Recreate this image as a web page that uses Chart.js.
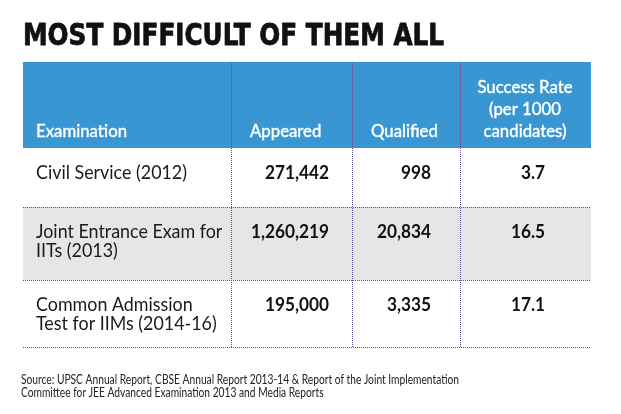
<!DOCTYPE html>
<html>
<head>
<meta charset="utf-8">
<title>Most difficult of them all</title>
<script src="https://cdn.jsdelivr.net/npm/chart.js"></script>
<style>
  html, body { margin: 0; padding: 0; background: #fff; }
  #wrap { width: 621px; height: 414px; }
</style>
</head>
<body>
<div id="wrap"><canvas id="chartTable" width="621" height="414"></canvas></div>
<script>
// Table content
const titleText = 'MOST DIFFICULT OF THEM ALL';
const headers = [['Examination'], ['Appeared'], ['Qualified'], ['Success Rate', '(per 1000', 'candidates)']];
const exams = [['Civil Service (2012)'], ['Joint Entrance Exam for', 'IITs (2013)'], ['Common Admission', 'Test for IIMs (2014-16)']];
const appeared = [271442, 1260219, 195000];
const qualified = [998, 20834, 3335];
const successRate = [3.7, 16.5, 17.1];
const sourceLines = [
    'Source: UPSC Annual Report, CBSE Annual Report 2013-14 & Report of the Joint Implementation',
    'Committee for JEE Advanced Examination 2013 and Media Reports'
];

// Layout (scale units: table is 568 wide, 285 tall)
const colEdges = [0, 208, 329, 437, 568];
const rowEdges = [0, 86, 145, 218, 285];

const BLUE = '#3897d3';
const GREY = '#e6e6e7';
const DOTS = '#544f98';

const styles = {
    title: { font: 'bold 31px "Liberation Sans Narrow", "DejaVu Sans Condensed", sans-serif', color: '#111', ref: [titleText, 421], stroke: 0.8 },
    head:  { font: '17px Lato, "Open Sans", sans-serif', color: '#fff', ref: ['Examination', 91], stroke: 0.4 },
    body:  { font: '20px Lato, "Open Sans", sans-serif', color: '#1a1a1a', ref: ['Civil Service (2012)', 151] },
    num:   { font: 'bold 19px Lato, "Open Sans", sans-serif', color: '#111', ref: ['271,442', 64] },
    src:   { font: '13.5px Lato, "Open Sans", sans-serif', color: '#222', ref: [sourceLines[0], 438] }
};

function squeeze(ctx, style) {
    if (style.sq === undefined) {
        ctx.font = style.font;
        style.sq = style.ref[1] / ctx.measureText(style.ref[0]).width;
    }
    return style.sq;
}

function drawText(ctx, str, x, y, style, align) {
    const sq = squeeze(ctx, style);
    ctx.save();
    ctx.font = style.font;
    ctx.fillStyle = style.color;
    ctx.textAlign = align || 'left';
    ctx.textBaseline = 'alphabetic';
    ctx.translate(x, y);
    ctx.scale(sq, 1);
    ctx.fillText(str, 0, 0);
    if (style.stroke) {
        ctx.strokeStyle = style.color;
        ctx.lineWidth = style.stroke;
        ctx.strokeText(str, 0, 0);
    }
    ctx.restore();
}

function dotted(ctx, x1, y1, x2, y2) {
    ctx.save();
    ctx.strokeStyle = DOTS;
    ctx.lineWidth = 1;
    ctx.setLineDash([1, 1]);
    ctx.beginPath();
    ctx.moveTo(x1, y1);
    ctx.lineTo(x2, y2);
    ctx.stroke();
    ctx.restore();
}

const fmt = (v) => v.toLocaleString('en-US');

const tablePlugin = {
    id: 'tablePlugin',
    afterDraw(chart) {
        const ctx = chart.ctx;
        const x = chart.scales.x;
        const y = chart.scales.y;
        const px = (v) => x.getPixelForValue(v);
        const py = (v) => y.getPixelForValue(v);
        const left = px(colEdges[0]), right = px(colEdges[4]);

        // title
        drawText(ctx, titleText, 23, 45, styles.title);

        // header band and grey row
        ctx.fillStyle = BLUE;
        ctx.fillRect(left, py(rowEdges[0]), right - left, py(rowEdges[1]) - py(rowEdges[0]));
        ctx.fillStyle = GREY;
        ctx.fillRect(left, py(rowEdges[2]), right - left, py(rowEdges[3]) - py(rowEdges[2]));

        // header text
        const headBottom = py(rowEdges[1]) - 11;
        drawText(ctx, headers[0][0], px(colEdges[0]) + 13, headBottom, styles.head);
        drawText(ctx, headers[1][0], px(colEdges[1]) + 19, headBottom, styles.head);
        drawText(ctx, headers[2][0], px(colEdges[2]) + 19, headBottom, styles.head);
        const rateLines = headers[3];
        rateLines.forEach((line, i) => {
            drawText(ctx, line, px(colEdges[3]) + 65, headBottom - (rateLines.length - 1 - i) * 22, styles.head, 'center');
        });

        // body rows
        exams.forEach((lines, r) => {
            const base = py(rowEdges[r + 1]) + 31;
            lines.forEach((line, i) => {
                drawText(ctx, line, px(colEdges[0]) + 13, base + i * 18.5, styles.body);
            });
            drawText(ctx, fmt(appeared[r]), px(colEdges[2]) - 23, base, styles.num, 'right');
            drawText(ctx, fmt(qualified[r]), px(colEdges[3]) - 29, base, styles.num, 'right');
            drawText(ctx, successRate[r].toFixed(1), px(colEdges[4]) - 46, base, styles.num, 'right');
        });

        // dotted grid
        for (let c = 1; c < colEdges.length - 1; c++) {
            const cx = Math.round(px(colEdges[c])) + 0.5;
            dotted(ctx, cx, py(rowEdges[0]), cx, py(rowEdges[4]));
        }
        for (let r = 2; r < rowEdges.length; r++) {
            const ry = Math.round(py(rowEdges[r])) + 0.5;
            dotted(ctx, left, ry, right, ry);
        }

        // source
        sourceLines.forEach((line, i) => {
            drawText(ctx, line, 21, 384 + i * 13, styles.src);
        });
    }
};

new Chart(document.getElementById('chartTable'), {
    type: 'scatter',
    data: { datasets: [{ data: [] }] },
    options: {
        responsive: false,
        animation: false,
        layout: { padding: { left: 23, right: 30, top: 62, bottom: 67 } },
        plugins: { legend: { display: false }, tooltip: { enabled: false } },
        scales: {
            x: { type: 'linear', min: 0, max: 568, display: false },
            y: { type: 'linear', min: 0, max: 285, reverse: true, display: false }
        }
    },
    plugins: [tablePlugin]
});
</script>
</body>
</html>
